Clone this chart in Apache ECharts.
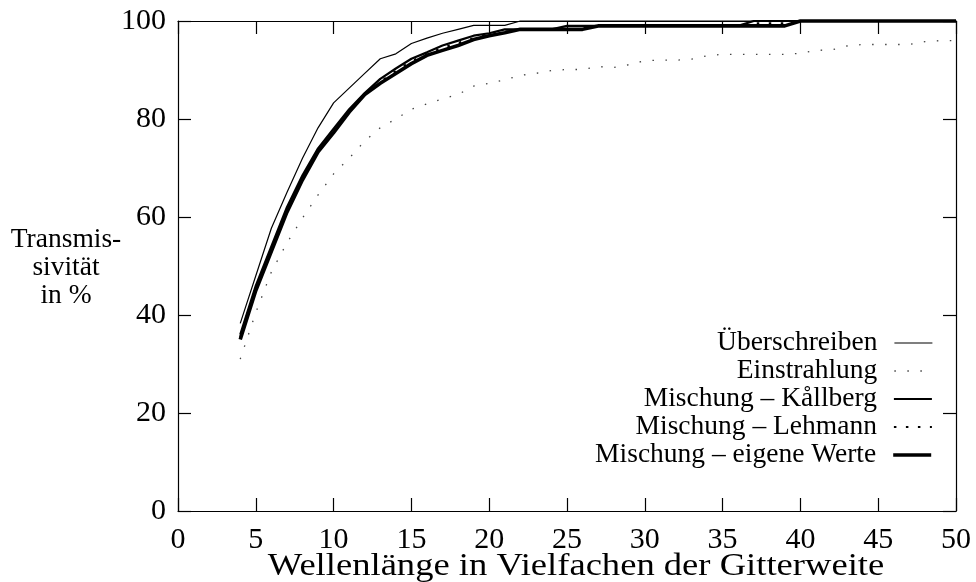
<!DOCTYPE html>
<html>
<head>
<meta charset="utf-8">
<script src="https://cdn.jsdelivr.net/npm/echarts@6/dist/echarts.min.js"></script>
<style>
  html, body { margin: 0; padding: 0; background: #fff; }
  #chart { width: 976px; height: 582px; }
</style>
</head>
<body>
<div id="chart"></div>
<script>
// Wellenlänge in Vielfachen der Gitterweite (4 … 50)
const wavelengths = [4,5,6,7,8,9,10,11,12,13,14,15,16,17,18,19,20,21,22,23,24,25,26,27,28,29,30,31,32,33,34,35,36,37,38,39,40,41,42,43,44,45,46,47,48,49,50];

// Transmissivität in % je Verfahren
const ueberschreiben = [38.3,48,57.7,65,72,78.2,83.3,86.3,89.3,92.3,93.3,95.4,96.5,97.5,98.3,99.1,99.1,99.1,100,100,100,100,100,100,100,100,100,100,100,100,100,100,100,100,100,100,100,100,100,100,100,100,100,100,100,100,100];
const einstrahlung = [31,40.5,48.8,54.7,59.8,64.5,68.8,72,75.5,78.2,80,82,83.1,84.1,85,86.7,87.3,88,88.9,89.3,89.9,90.1,90.1,90.7,90.5,91.1,91.9,92,92,92.2,92.9,93.2,93.2,93.2,93.2,93.2,93.4,94,94.1,94.9,95.2,95.2,95.2,95.2,95.8,96,96];
const kallberg = [36,46,54,62,68.5,74,78,82,85.3,88.2,90.3,92.3,93.6,95,96,97,97.5,98.3,98.3,98.3,98.3,99,99,99,99,99,99,99,99,99,99,99,99,100,100,100,100,100,100,100,100,100,100,100,100,100,100];
const lehmann = [35.5,45.5,53.5,61.5,68,73.6,77.5,81.6,85,87.6,89.8,91.8,93.2,94.5,95.5,96.5,97.2,97.8,98.3,98.3,98.3,98.3,98.3,99,99,99,99,99,99,99,99,99,99,99.5,99.5,99.5,100,100,100,100,100,100,100,100,100,100,100];
const eigeneWerte = [35,45,53,61,67.6,73.3,77.2,81.4,85,87.3,89.3,91.3,93,94,95,96.2,97,97.6,98.3,98.3,98.3,98.3,98.3,99,99,99,99,99,99,99,99,99,99,99,99,99,100,100,100,100,100,100,100,100,100,100,100];

const seriesNames = ['Überschreiben', 'Einstrahlung', 'Mischung – Kållberg', 'Mischung – Lehmann', 'Mischung – eigene Werte'];

const xTicks = { min: 0, max: 50, interval: 5 };
const yTicks = { min: 0, max: 100, interval: 20 };

const FONT = '"Liberation Serif", "DejaVu Serif", serif';
const FS_TEXT = 27.5;   // legend and y title
const FS_TICK = 30;     // tick labels
const FS_XNAME = 31;    // x title (drawn slightly widened)

const pairs = vals => wavelengths.map((x, i) => [x, vals[i]]);

const axisCommon = {
  type: 'value',
  axisLine: { show: true, onZero: false, lineStyle: { color: '#000', width: 1.2 } },
  axisTick: { show: true, inside: true, length: 13, lineStyle: { color: '#000', width: 1.2 } },
  splitLine: { show: false },
  axisLabel: { color: '#000', fontFamily: FONT, fontSize: FS_TICK }
};

const styles = [
  { width: 1.2, type: 'solid', color: '#000' },
  { width: 1.3, type: [1.5, 11.5], color: '#444' },
  { width: 2.2, type: 'solid', color: '#000' },
  { width: 2.2, type: [2.5, 9.5], color: '#000' },
  { width: 3.6, type: 'solid', color: '#000' }
];
const dataSets = [ueberschreiben, einstrahlung, kallberg, lehmann, eigeneWerte];

const series = seriesNames.map((name, i) => ({
  name,
  type: 'line',
  data: pairs(dataSets[i]),
  showSymbol: false,
  symbol: 'none',
  clip: false,
  z: 2 + i,
  lineStyle: styles[i],
  itemStyle: { color: styles[i].color },
  emphasis: { disabled: true }
}));

// one legend block per row, all right-aligned against the same edge;
// only the line sample is shown, the marker is hidden
const legendTops = [329, 357, 385, 413, 441];
const legends = seriesNames.map((name, i) => ({
  data: [name],
  right: 43,
  top: legendTops[i],
  align: 'right',
  itemWidth: 38,
  itemHeight: 14,
  itemGap: 0,
  padding: 0,
  selectedMode: false,
  itemStyle: { opacity: 0 },
  lineStyle: { width: styles[i].width, type: styles[i].type, color: styles[i].color },
  textStyle: { fontFamily: FONT, fontSize: FS_TEXT, color: '#000', padding: [0, 12, 0, 0] }
}));

const chart = echarts.init(document.getElementById('chart'), null, { renderer: 'canvas' });
chart.setOption({
  animation: false,
  backgroundColor: '#fff',
  grid: { left: 178, right: 20, top: 21, bottom: 71, containLabel: false, outerBoundsMode: 'none' },
  xAxis: [
    Object.assign({}, axisCommon, xTicks, {
      position: 'bottom',
      axisLabel: Object.assign({}, axisCommon.axisLabel, { margin: 14 })
    }),
    Object.assign({}, axisCommon, xTicks, { position: 'top', axisLabel: { show: false } })
  ],
  yAxis: [
    Object.assign({}, axisCommon, yTicks, {
      position: 'left',
      axisLabel: Object.assign({}, axisCommon.axisLabel, { margin: 12 })
    }),
    Object.assign({}, axisCommon, yTicks, { position: 'right', axisLabel: { show: false } })
  ],
  legend: legends,
  graphic: [
    {
      type: 'text',
      x: 66,
      y: 268,
      style: {
        text: 'Transmis-\nsivität\nin %',
        font: FS_TEXT + 'px ' + FONT,
        fill: '#000',
        align: 'center',
        verticalAlign: 'middle',
        lineHeight: 28
      }
    },
    {
      type: 'text',
      x: 576,
      y: 567,
      scaleX: 1.18,
      style: {
        text: 'Wellenlänge in Vielfachen der Gitterweite',
        font: FS_XNAME + 'px ' + FONT,
        fill: '#000',
        align: 'center',
        verticalAlign: 'middle'
      }
    }
  ],
  series
});
</script>
</body>
</html>
